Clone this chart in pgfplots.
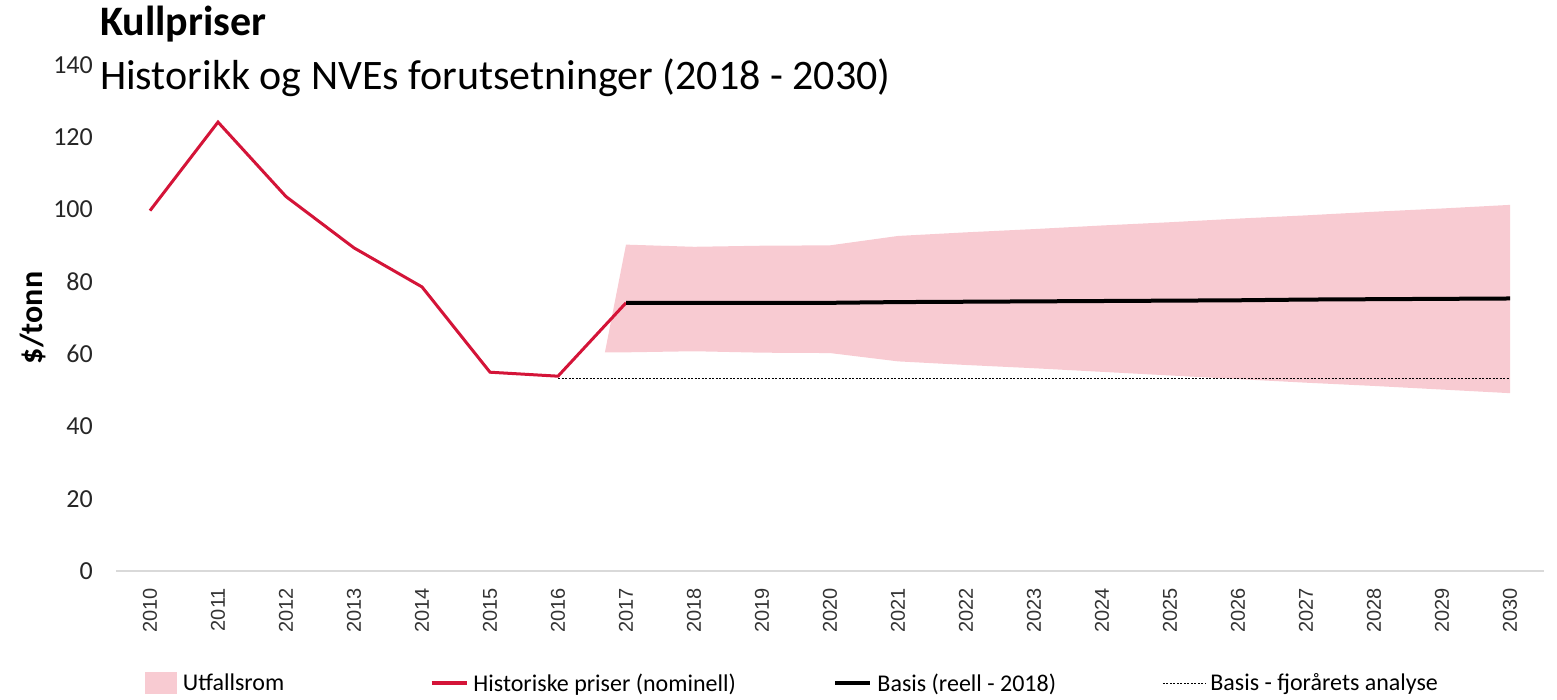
\documentclass[border=0pt]{standalone}
\usepackage{fontspec}
\setmainfont{Carlito}
\newfontfamily\arial{Liberation Sans}
\usepackage{pgfplots}
\pgfplotsset{compat=1.18}
\definecolor{bandpink}{RGB}{248,203,210}
\definecolor{histred}{RGB}{212,20,56}
\definecolor{axisgray}{RGB}{217,217,217}
\begin{document}
\begin{tikzpicture}
\useasboundingbox (0pt,0pt) rectangle (1557pt,699pt);
\node[anchor=base west, inner sep=0pt, font=\fontsize{42}{48}\selectfont\bfseries] at (100pt,663pt) {Kullpriser};
\node[anchor=base west, inner sep=0pt, font=\fontsize{42}{48}\selectfont] at (100pt,609pt) {Historikk og NVEs forutsetninger (2018 - 2030)};
\begin{axis}[
  at={(116pt,128pt)}, anchor=south west,
  scale only axis, width=1428pt, height=506pt,
  xmin=2009.5, xmax=2030.5, ymin=0, ymax=140,
  axis x line*=bottom, axis y line*=left,
  x axis line style={-, draw=axisgray, line width=1.5pt},
  y axis line style={draw=none},
  xtick={2010,...,2030}, ytick={0,20,...,140},
  major tick length=0pt,
  /pgf/number format/1000 sep={},
  /pgf/number format/assume math mode=true,
  xticklabel style={rotate=90, anchor=east, inner sep=0pt, font=\arial\fontsize{20}{24}\selectfont, text=black!80},
  xticklabel shift=17pt,
  yticklabel style={anchor=east, inner sep=0pt, xshift=-23pt, font=\fontsize{26}{30}\selectfont, text=black!85},
  ylabel={\fontsize{32}{38}\selectfont\bfseries \$/tonn},
  ylabel style={at={(axis description cs:-0.0581,0.5)}, rotate=0, anchor=center, inner sep=0pt},
  legend columns=4,
  legend cell align=left,
  legend style={at={(axis description cs:0.0203,-0.2213)}, anchor=west, draw=none, fill=none, inner sep=0pt, outer sep=0pt,
    font=\fontsize{24}{28}\selectfont, column sep=0pt, nodes={inner sep=0pt}},
]
\addplot[fill=bandpink, draw=none,
  legend image code/.code={\fill[bandpink] (0pt,-11pt) rectangle (32pt,11pt);}]
  coordinates {
  (2017,90.3) (2018,89.7) (2019,90.0) (2020,90.1) (2021,92.7) (2022,93.7) (2023,94.6) (2024,95.6)
  (2025,96.5) (2026,97.5) (2027,98.4) (2028,99.4) (2029,100.3) (2030,101.3)
  (2030,49.2) (2029,50.2) (2028,51.2) (2027,52.1) (2026,53.1) (2025,54.1) (2024,55.1) (2023,56.1)
  (2022,57.0) (2021,58.0) (2020,60.3) (2019,60.4) (2018,60.8) (2017,60.5) (2016.69,60.5)
  } -- cycle;
\addlegendentry{\hspace{6pt}\makebox[247pt][l]{Utfallsrom}}
\addplot[histred, line width=3pt,
  legend image code/.code={\draw[histred, line width=3.5pt] (0pt,0pt) -- (35pt,0pt);}]
  coordinates {(2010,99.7) (2011,124.2) (2012,103.6) (2013,89.4) (2014,78.6) (2015,55.0) (2016,53.9) (2017,74.2)};
\addlegendentry{\hspace{5pt}\makebox[360pt][l]{Historiske priser (nominell)}}
\addplot[black, line width=4pt,
  legend image code/.code={\draw[black, line width=4pt] (0pt,0pt) -- (35pt,0pt);}]
  coordinates {(2017,74.2) (2018,74.2) (2019,74.2) (2020,74.2) (2021,74.4) (2022,74.5) (2023,74.6)
  (2024,74.7) (2025,74.8) (2026,74.9) (2027,75.1) (2028,75.2) (2029,75.3) (2030,75.4)};
\addlegendentry{\hspace{5pt}\makebox[285pt][l]{Basis (reell - 2018)}}
\addplot[black, line width=0.9pt, dash pattern=on 2pt off 1.5pt,
  legend image code/.code={\draw[black, line width=0.9pt, dash pattern=on 2pt off 1.5pt] (0pt,0pt) -- (43pt,0pt);}]
  coordinates {(2016,53.3) (2030,53.3)};
\addlegendentry{\hspace{4pt}Basis - fjorårets analyse}
\end{axis}
\end{tikzpicture}
\end{document}
